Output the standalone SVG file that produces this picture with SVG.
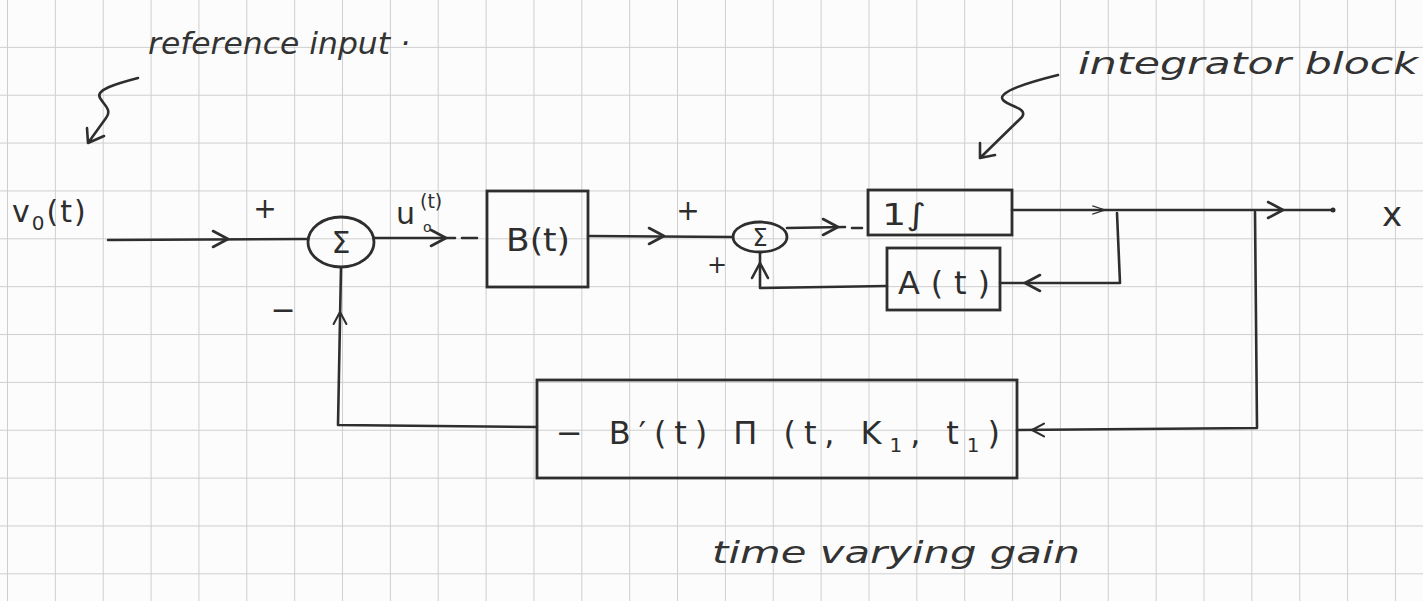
<svg xmlns="http://www.w3.org/2000/svg" xmlns:xlink="http://www.w3.org/1999/xlink" width="1423" height="601" viewBox="0 0 1423 601">
<style>
.ln{fill:none;stroke:#2e2e2e;stroke-width:2.6;stroke-linecap:round;stroke-linejoin:round}
.bx{fill:none;stroke:#2e2e2e;stroke-width:2.8}
.t{font-family:"DejaVu Sans","Liberation Sans",sans-serif;fill:#2e2e2e}
.hand{font-family:"DejaVu Sans","Liberation Sans",sans-serif;fill:#333;font-style:oblique}
</style>
<defs>
<pattern id="grid" x="7" y="-1" width="47.86" height="47.86" patternUnits="userSpaceOnUse">
<path d="M0,0 H47.86 M0,0 V47.86" fill="none" stroke="#cfcfcf" stroke-width="2"/>
</pattern>
<path id="chev" d="M-15,-8 L0,0 L-15,8" fill="none" stroke="#2e2e2e" stroke-width="2.6" stroke-linecap="round" stroke-linejoin="round"/>
</defs>
<rect width="1423" height="601" fill="#fcfcfc"/>
<rect width="1423" height="601" fill="url(#grid)"/>

<g id="annotations">
<text class="hand" x="148" y="54" font-size="30" textLength="262" lengthAdjust="spacingAndGlyphs">reference input ·</text>
<path class="ln" d="M138,78 C115,84 95,90 100,98 C105,106 112,110 106,118 L88,143 M87,128 L88,143 L104,136"/>
<text class="hand" x="1078" y="74" font-size="30" textLength="340" lengthAdjust="spacingAndGlyphs">integrator block</text>
<path class="ln" d="M1058,75 C1030,82 996,92 1003,100 C1010,107 1028,108 1022,117 L980,158 M980,143 L980,158 L995,155"/>
<text class="hand" x="712" y="563" font-size="30" textLength="368" lengthAdjust="spacingAndGlyphs">time varying gain</text>
</g>

<g id="input">
<text class="t" x="12" y="222" font-size="30" letter-spacing="2">v<tspan font-size="20" dy="8">0</tspan><tspan dy="-8">(t)</tspan></text>
</g>

<g id="sum1">
<ellipse class="bx" cx="341" cy="242" rx="33" ry="25"/>
<text class="t" x="341" y="253" font-size="30" text-anchor="middle">Σ</text>
<text class="t" x="265" y="218" font-size="28" text-anchor="middle">+</text>
<text class="t" x="283" y="320" font-size="30" text-anchor="middle">−</text>
</g>

<g id="u0label">
<text class="t" x="396" y="224" font-size="30">u</text>
<text class="t" x="420" y="208" font-size="19">(t)</text>
<text class="t" x="423" y="232" font-size="14">o</text>
</g>

<g id="B">
<rect class="bx" x="487" y="191" width="101" height="96"/>
<text class="t" x="506" y="251" font-size="32" textLength="64" lengthAdjust="spacingAndGlyphs">B(t)</text>
</g>

<g id="sum2">
<ellipse class="bx" cx="760" cy="237" rx="27" ry="15"/>
<text class="t" x="760" y="246" font-size="24" text-anchor="middle">Σ</text>
<text class="t" x="688" y="220" font-size="28" text-anchor="middle">+</text>
<text class="t" x="717" y="273" font-size="24" text-anchor="middle">+</text>
</g>

<g id="integrator">
<rect class="bx" x="868" y="190" width="144" height="45"/>
<text class="t" x="882" y="225" font-size="30" textLength="44" lengthAdjust="spacingAndGlyphs">1∫</text>
</g>

<g id="A">
<rect class="bx" x="887" y="248" width="113" height="62"/>
<text class="t" x="898" y="294" font-size="32" textLength="92" lengthAdjust="spacing">A(t)</text>
</g>

<g id="gain">
<rect class="bx" x="537" y="380" width="480" height="98"/>
<text class="t" x="556" y="444" font-size="32" textLength="444" lengthAdjust="spacing">− B′(t) Π (t, K<tspan font-size="20" dy="8">1</tspan><tspan dy="-8">, t</tspan><tspan font-size="20" dy="8">1</tspan><tspan dy="-8">)</tspan></text>
</g>

<g id="output">
<text class="t" x="1392" y="226" font-size="34" text-anchor="middle">x</text>
</g>

<g id="connectors">
<path class="ln" d="M108,240 L307,239"/>
<use xlink:href="#chev" transform="translate(228,239)"/>
<path class="ln" d="M374,238 L455,238 M462,238 L477,238"/>
<use xlink:href="#chev" transform="translate(446,238)"/>
<path class="ln" d="M588,236 L733,237"/>
<use xlink:href="#chev" transform="translate(664,236)"/>
<path class="ln" d="M787,228 L845,227 M852,228 L862,228"/>
<use xlink:href="#chev" transform="translate(838,227)"/>
<path class="ln" d="M1012,210 L1333,210"/>
<use xlink:href="#chev" transform="translate(1105,210) scale(0.8,0.5)"/>
<use xlink:href="#chev" transform="translate(1283,210)"/>
<circle cx="1333" cy="210" r="2.5" fill="#2e2e2e"/>
<path class="ln" d="M1117,213 L1120,283 L1000,283"/>
<use xlink:href="#chev" transform="translate(1025,283) rotate(180)"/>
<path class="ln" d="M887,286 L760,288 L760,253"/>
<use xlink:href="#chev" transform="translate(760,263) rotate(-90)"/>
<path class="ln" d="M1255,212 L1257,428 L1017,430"/>
<use xlink:href="#chev" transform="translate(1032,430) rotate(180) scale(0.8)"/>
<path class="ln" d="M537,427 L338,425 L341,268"/>
<use xlink:href="#chev" transform="translate(340,312) rotate(-90) scale(0.8)"/>
</g>
</svg>
